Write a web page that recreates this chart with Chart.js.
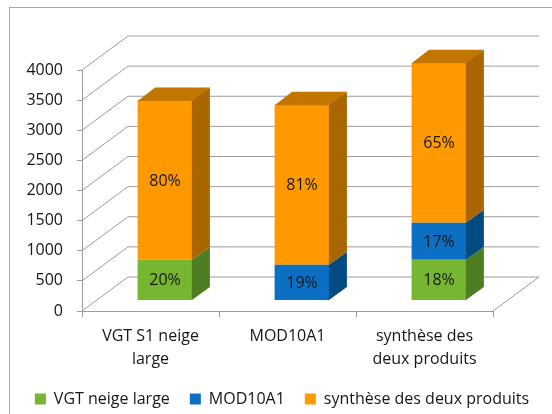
<!DOCTYPE html>
<html>
<head>
<meta charset="utf-8">
<script src="https://cdn.jsdelivr.net/npm/chart.js@4.4.1/dist/chart.umd.min.js"></script>
<style>
  html, body { margin: 0; padding: 0; background: #fff; }
</style>
</head>
<body>
<canvas id="chart" width="552" height="414"></canvas>
<script>
// données
const categories = [['VGT S1 neige', 'large'], 'MOD10A1', ['synthèse des', 'deux produits']]
const seriesNames = ['VGT neige large', 'MOD10A1', 'synthèse des deux produits']
const vgtValues = [675, null, 675]
const modValues = [null, 595, 615]
const syntheseValues = [2645, 2655, 2655]
const vgtLabels = ['20%', null, '18%']
const modLabels = [null, '19%', '17%']
const syntheseLabels = ['80%', '81%', '65%']
const yMax = 4000
const yStep = 500

const FONT = "'Open Sans', sans-serif"
const TEXT = '#161616'
const LINE = '#9c9c9c'
// décalages de la pseudo 3D
const BACK = { dx: 46, dy: -34 }
const BAR = { dx: 14.5, dy: -10.5 }
const SIDE = { dx: 17.5, dy: -13 }

function poly (ctx, pts) {
  ctx.beginPath()
  ctx.moveTo(pts[0][0], pts[0][1])
  for (let i = 1; i < pts.length; i++) ctx.lineTo(pts[i][0], pts[i][1])
  ctx.closePath()
  ctx.fill()
}

const box3d = {
  id: 'box3d',
  beforeDraw (chart) {
    const ctx = chart.ctx
    ctx.save()
    ctx.fillStyle = '#fff'
    ctx.fillRect(0, 0, chart.width, chart.height)
    ctx.strokeStyle = '#a6a6a6'
    ctx.lineWidth = 1
    ctx.strokeRect(9.5, 7.5, chart.width, chart.height)
    ctx.restore()
  },
  beforeDatasetsDraw (chart) {
    const { ctx, chartArea: a, scales: { y } } = chart
    ctx.save()
    ctx.strokeStyle = LINE
    ctx.lineWidth = 1
    // murs : gauche + fond
    y.ticks.forEach((t) => {
      const py = y.getPixelForValue(t.value)
      ctx.beginPath()
      ctx.moveTo(a.left, py)
      ctx.lineTo(a.left + BACK.dx, py + BACK.dy)
      ctx.lineTo(a.right + BACK.dx, py + BACK.dy)
      ctx.stroke()
    })
    // sol, bord droit
    ctx.beginPath()
    ctx.moveTo(a.right, a.bottom)
    ctx.lineTo(a.right + BACK.dx, a.bottom + BACK.dy)
    ctx.stroke()
    ctx.restore()
    // les faces avant des barres sont dessinées en profondeur
    ctx.save()
    ctx.translate(BAR.dx, BAR.dy)
  },
  afterDatasetsDraw (chart) {
    const ctx = chart.ctx
    const sets = chart.data.datasets
    sets.forEach((ds, i) => {
      const meta = chart.getDatasetMeta(i)
      meta.data.forEach((bar, j) => {
        if (ds.data[j] == null) return
        const { x, y, base, width } = bar.getProps(['x', 'y', 'base', 'width'], true)
        const xl = x - width / 2
        const xr = x + width / 2
        ctx.fillStyle = ds.sideColor
        poly(ctx, [[xr - 0.5, y], [xr + SIDE.dx, y + SIDE.dy], [xr + SIDE.dx, base + SIDE.dy], [xr - 0.5, base]])
        let isTop = true
        for (let k = i + 1; k < sets.length; k++) {
          if (sets[k].data[j] != null) isTop = false
        }
        if (isTop) {
          ctx.fillStyle = ds.topColor
          poly(ctx, [[xl, y + 0.5], [xl + SIDE.dx, y + SIDE.dy], [xr + SIDE.dx, y + SIDE.dy], [xr, y + 0.5]])
        }
      })
    })
    // pourcentages
    ctx.font = `16px ${FONT}`
    ctx.fillStyle = TEXT
    ctx.textAlign = 'center'
    ctx.textBaseline = 'middle'
    sets.forEach((ds, i) => {
      const meta = chart.getDatasetMeta(i)
      meta.data.forEach((bar, j) => {
        const lbl = ds.pctLabels[j]
        if (lbl == null || ds.data[j] == null) return
        const { x, y, base } = bar.getProps(['x', 'y', 'base'], true)
        ctx.fillText(lbl, x, (y + base) / 2 + 1)
      })
    })
    ctx.restore()
  }
}

new Chart(document.getElementById('chart'), {
  type: 'bar',
  data: {
    labels: categories,
    datasets: [
      { label: seriesNames[0], data: vgtValues, pctLabels: vgtLabels, backgroundColor: '#77b631', sideColor: '#4e7d22', topColor: '#5f9628' },
      { label: seriesNames[1], data: modValues, pctLabels: modLabels, backgroundColor: '#0b6fc3', sideColor: '#024b82', topColor: '#05599b' },
      { label: seriesNames[2], data: syntheseValues, pctLabels: syntheseLabels, backgroundColor: '#ff9900', sideColor: '#a86500', topColor: '#c27600' }
    ]
  },
  options: {
    responsive: false,
    animation: false,
    layout: { padding: { left: 12, top: 70, right: 0, bottom: -3 } },
    datasets: { bar: { categoryPercentage: 1, barPercentage: 0.4, clip: false } },
    plugins: {
      legend: {
        position: 'bottom',
        labels: { boxWidth: 11, boxHeight: 11, padding: 20, color: TEXT, font: { family: FONT, size: 16 } }
      },
      tooltip: { enabled: false }
    },
    scales: {
      x: {
        stacked: true,
        grid: { offset: true, drawOnChartArea: false, tickLength: 6, color: LINE },
        border: { color: LINE },
        ticks: { color: TEXT, font: { family: FONT, size: 16, lineHeight: 1.43 }, padding: 8, maxRotation: 0, autoSkip: false },
        afterFit: (s) => { s.height = 60 }
      },
      y: {
        stacked: true,
        min: 0,
        max: yMax,
        ticks: { stepSize: yStep, color: TEXT, font: { family: FONT, size: 16 }, padding: 14, callback: (v) => String(v) },
        grid: { drawOnChartArea: false, tickLength: 5, color: LINE },
        border: { color: LINE },
        afterFit: (s) => { s.width = 70 }
      },
      yR: {
        position: 'right',
        grid: { display: false },
        ticks: { display: false },
        border: { display: false },
        afterFit: (s) => { s.width = 59 }
      }
    }
  },
  plugins: [box3d]
})
</script>
</body>
</html>
